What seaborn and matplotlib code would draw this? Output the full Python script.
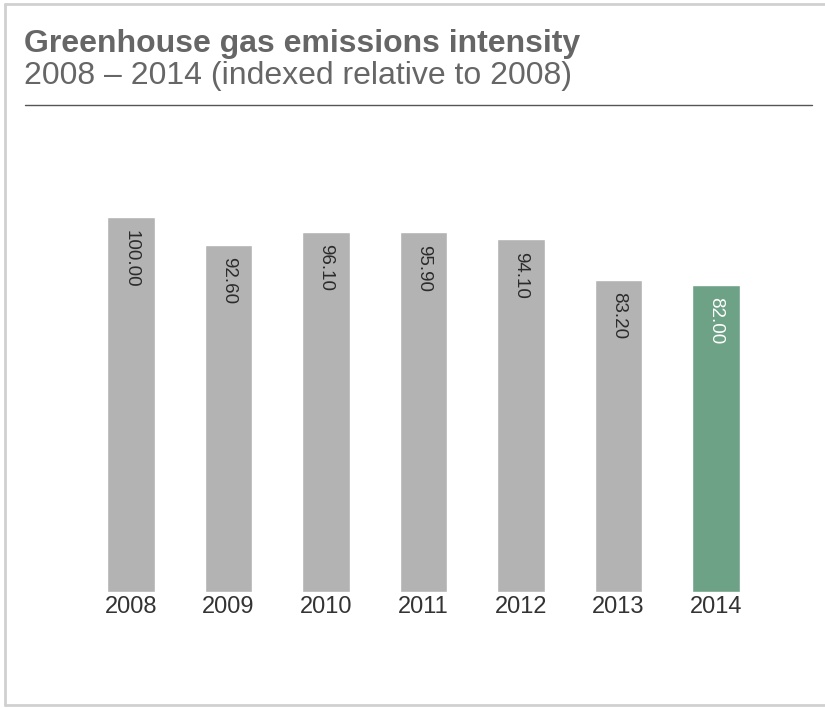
import pandas as pd
import matplotlib
matplotlib.use("Agg")
import matplotlib.pyplot as plt
from matplotlib.lines import Line2D
import seaborn as sns

years = ["2008", "2009", "2010", "2011", "2012", "2013", "2014"]
intensity = [100.00, 92.60, 96.10, 95.90, 94.10, 83.20, 82.00]

GRAY = "#b3b3b3"
GREEN = "#6ea287"
bar_colors = {y: GRAY for y in years}
bar_colors["2014"] = GREEN

df = pd.DataFrame({"year": years, "intensity": intensity})

sns.set_theme(style="white")
plt.rcParams["font.family"] = ["Liberation Sans", "DejaVu Sans"]

fig = plt.figure(figsize=(8.25, 7.08), dpi=100)
W, H = 825, 708
# axes placed so that bar centres / baseline land where the reference has them
ax = fig.add_axes([82.25 / W, (H - 592) / H, 682.5 / W, 412.5 / H])

sns.barplot(data=df, x="year", y="intensity", hue="year", palette=bar_colors,
            width=0.49, saturation=1, legend=False, ax=ax)
ax.set_ylim(0, 110)
ax.set_xlim(-0.5, len(years) - 0.5)
ax.set_xlabel("")
ax.set_ylabel("")
ax.set_yticks([])
sns.despine(ax=ax, left=True, bottom=True)
ax.tick_params(axis="x", length=0, pad=3, labelsize=17, labelcolor="#333333")

# value labels, rotated, just inside the top of each bar
for p, v, y in zip(ax.patches, intensity, years):
    ax.annotate(f"{v:.2f}", xy=(p.get_x() + p.get_width() / 2, p.get_height()),
                xytext=(0, -9), textcoords="offset points",
                rotation=270, ha="center", va="top", fontsize=13.5,
                color="white" if y == "2014" else "#2b2b2b")

# title block
fig.text(24 / W, 1 - 52 / H, "Greenhouse gas emissions intensity",
         fontsize=23, fontweight="bold", color="#666666", va="baseline", ha="left")
fig.text(24 / W, 1 - 84 / H, "2008 \u2013 2014 (indexed relative to 2008)",
         fontsize=23, color="#666666", va="baseline", ha="left")
fig.add_artist(Line2D([25 / W, 812 / W], [1 - 105 / H] * 2, color="#555555", lw=1))

# light frame around the panel
frame = dict(color="#d0d0d0", lw=2)
fig.add_artist(Line2D([5 / W, 5 / W], [1 - 4 / H, 1 - 705 / H], **frame))
fig.add_artist(Line2D([5 / W, 1], [1 - 4 / H] * 2, **frame))
fig.add_artist(Line2D([5 / W, 1], [1 - 705 / H] * 2, **frame))

fig.savefig("out.png", dpi=100, facecolor="white")
